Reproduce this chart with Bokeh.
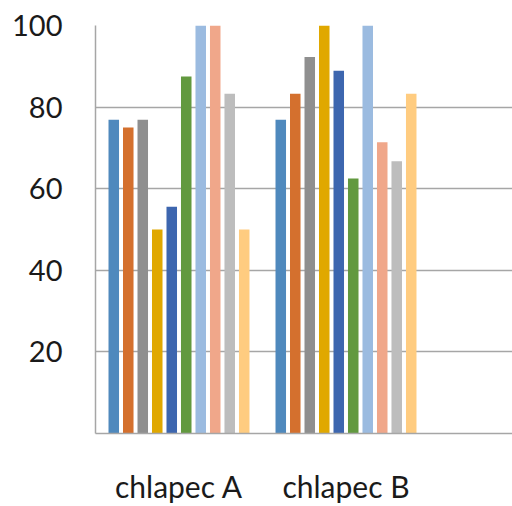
from bokeh.plotting import figure
from bokeh.models import Range1d, FixedTicker, ColumnDataSource
from bokeh.transform import dodge
from bokeh.embed import file_html
from bokeh.resources import INLINE

# Data
categories = ["chlapec A", "chlapec B"]
chlapec_a = [76.9, 75.0, 76.9, 50.0, 55.6, 87.5, 100.0, 100.0, 83.3, 50.0]
chlapec_b = [76.9, 83.3, 92.3, 100.0, 88.9, 62.5, 100.0, 71.4, 66.7, 83.3]
y_ticks = [20, 40, 60, 80, 100]

colors = ["#4F89BD", "#D4702E", "#8F8F8F", "#E0A800", "#3D66AF",
          "#62993F", "#9BBBE0", "#F0A78A", "#BDBDBD", "#FFCC80"]

positions = [i + 0.5 for i in range(len(categories))]

p = figure(width=512, height=506, output_backend="svg", toolbar_location=None,
           x_range=Range1d(0, 2.497), y_range=Range1d(0, 100),
           min_border_left=95, min_border_top=25, min_border_bottom=73,
           min_border_right=0)
p.outline_line_color = None
p.background_fill_color = "white"
p.border_fill_color = "white"

pitch = 0.0868
bar_w = 0.063
n = len(chlapec_a)
for i in range(n):
    src = ColumnDataSource(dict(x=positions, top=[chlapec_a[i], chlapec_b[i]]))
    p.vbar(x=dodge("x", (i - (n - 1) / 2) * pitch, range=p.x_range), top="top",
           width=bar_w, bottom=0, source=src, fill_color=colors[i], line_color=None)

# X axis
p.xaxis.ticker = FixedTicker(ticks=positions)
p.xaxis.major_label_overrides = {pos: lab for pos, lab in zip(positions, categories)}
p.xaxis.major_tick_line_color = None
p.xaxis.minor_tick_line_color = None
p.xaxis.major_tick_out = 0
p.xaxis.major_tick_in = 0
p.xaxis.axis_line_color = "#A6A6A6"
p.xaxis.axis_line_width = 1.5
p.xaxis.major_label_text_font = "Lato"
p.xaxis.major_label_text_font_size = "30px"
p.xaxis.major_label_text_color = "#1a1a1a"
p.xaxis.major_label_standoff = 34

# Y axis
p.yaxis.ticker = FixedTicker(ticks=y_ticks)
p.yaxis.major_tick_line_color = None
p.yaxis.minor_tick_line_color = None
p.yaxis.major_tick_out = 0
p.yaxis.major_tick_in = 0
p.yaxis.axis_line_color = "#A6A6A6"
p.yaxis.axis_line_width = 1.5
p.yaxis.major_label_text_font = "Lato"
p.yaxis.major_label_text_font_size = "29px"
p.yaxis.major_label_text_color = "#1a1a1a"
p.yaxis.major_label_standoff = 33

p.xgrid.grid_line_color = None
p.ygrid.grid_line_color = "#A6A6A6"
p.ygrid.grid_line_width = 1.5

open("out.html", "w").write(file_html(p, INLINE))
